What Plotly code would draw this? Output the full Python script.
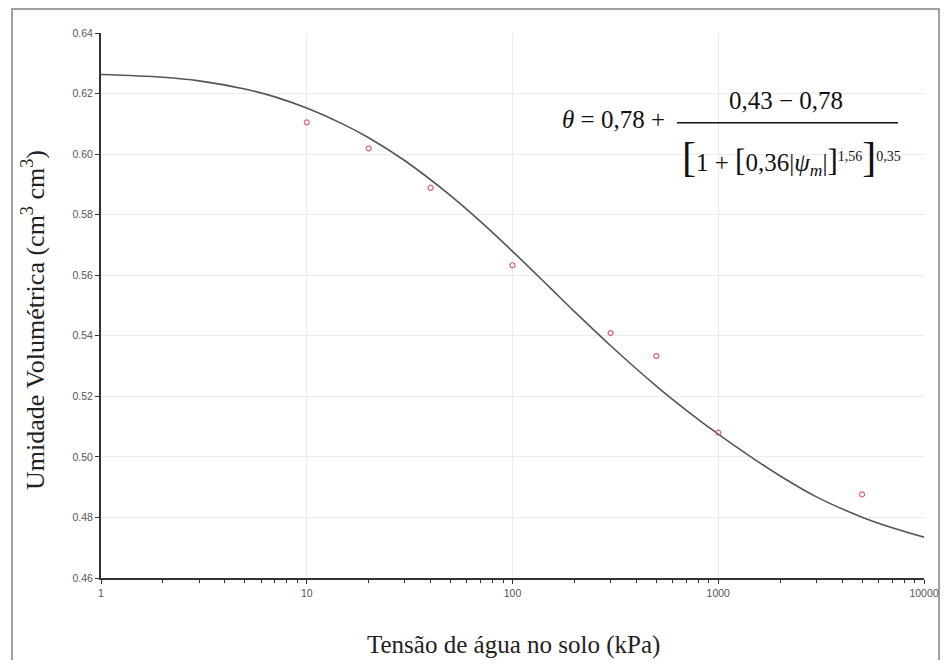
import plotly.graph_objects as go

# measured points
tensao = [10, 20, 40, 100, 300, 500, 1000, 5000]
umidade = [0.6105, 0.6019, 0.5889, 0.5633, 0.5409, 0.5333, 0.5080, 0.4876]

# fitted curve
curva_x = [1, 2, 3, 5, 7, 10, 15, 20, 30, 50, 70, 100, 150, 200, 300, 500,
           700, 1000, 1500, 2000, 3000, 5000, 7000, 10000]
curva_y = [0.6263, 0.6254, 0.6242, 0.6215, 0.6189, 0.6152, 0.6099, 0.6054,
           0.5978, 0.5863, 0.5777, 0.5679, 0.5563, 0.5480, 0.5367, 0.5234,
           0.5154, 0.5075, 0.4992, 0.4937, 0.4868, 0.4801, 0.4766, 0.4735]

xticks = [1, 10, 100, 1000, 10000]
xticklabels = ['1', '10', '100', '1000', '10000']

fig = go.Figure()
fig.add_trace(go.Scatter(x=curva_x, y=curva_y, mode='lines', line_shape='spline',
                         line=dict(color='#555555', width=1.6), hoverinfo='skip'))
fig.add_trace(go.Scatter(x=tensao, y=umidade, mode='markers',
                         marker=dict(symbol='circle-open', size=5, color='#e0607a',
                                     line=dict(width=1.2))))

serif = 'Liberation Serif, Times New Roman, serif'
tickfont = dict(family='Liberation Sans', size=10.5, color='#555555')

fig.update_xaxes(type='log', range=[0, 4], tickvals=xticks, ticktext=xticklabels,
                 showline=True, linecolor='#333333', linewidth=2,
                 ticks='outside', ticklen=4, tickcolor='#333333', automargin=False,
                 showgrid=True, gridcolor='#ececec', zeroline=False, tickfont=tickfont,
                 minor=dict(dtick='D1', ticks='outside', ticklen=3, tickcolor='#333333', showgrid=False))
fig.update_yaxes(range=[0.46, 0.64], dtick=0.02, tickformat='.2f',
                 showline=True, linecolor='#333333', linewidth=2,
                 ticks='outside', ticklen=4, tickcolor='#333333', automargin=False,
                 showgrid=True, gridcolor='#ececec', zeroline=False, tickfont=tickfont)

big = '<span style="font-size:42px">%s</span>'
mid = '<span style="font-size:31px">%s</span>'
small = '<span style="font-size:14px">%s</span>'
denom = (big % '[' + '1 + ' + mid % '[' + '0,36|<i>ψ</i><sub><i>m</i></sub>|' + mid % ']'
         + '<sup>' + small % '1,56' + '</sup>' + big % ']' + '<sup>' + small % '0,35' + '</sup>')

anns = [
    dict(x=0.5018, y=-0.123, text='Tensão de água no solo (kPa)', font=dict(family=serif, size=25, color='#222')),
    dict(x=-0.0814, y=0.4734, text='Umidade Volumétrica (cm<sup>3</sup> cm<sup>3</sup>)', textangle=-90,
         font=dict(family=serif, size=26, color='#222')),
    dict(x=0.6877, y=0.8404, xanchor='right', text='<i>θ</i> = 0,78 +', font=dict(family=serif, size=25, color='#111')),
    dict(x=0.8323, y=0.877, text='0,43 − 0,78', font=dict(family=serif, size=25, color='#111')),
    dict(x=0.8384, y=0.7725, text=denom, font=dict(family=serif, size=25, color='#111')),
]
for a in anns:
    a.setdefault('xanchor', 'center')
    a.update(xref='paper', yref='paper', yanchor='middle', showarrow=False)
    fig.add_annotation(**a)

# fraction bar and outer frame
fig.add_shape(type='line', xref='paper', yref='paper', x0=0.6999, x1=0.9684, y0=0.8354, y1=0.8354,
              line=dict(color='#111', width=1.5))
fig.add_shape(type='rect', xref='paper', yref='paper', x0=-0.1081, x1=1.0182, y0=-0.20, y1=1.044,
              line=dict(color='#a0a0a0', width=2), layer='below')

# the page adds an 8px body margin, so keep the figure inside the visible area
fig.update_layout(width=932, height=652, showlegend=False,
                  margin=dict(l=93, r=16, t=25, b=82),
                  paper_bgcolor='white', plot_bgcolor='white')

fig.write_html('out.html')
